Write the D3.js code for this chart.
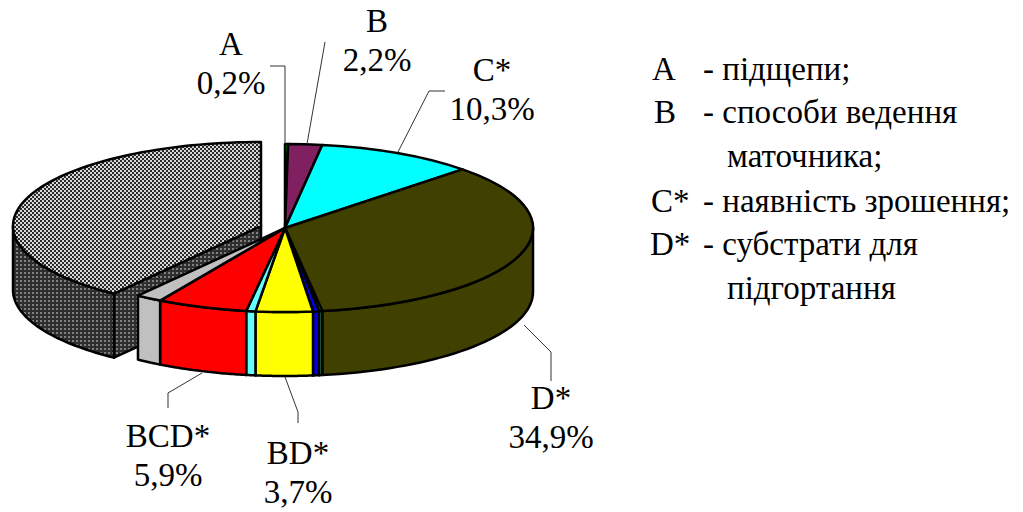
<!DOCTYPE html>
<html>
<head>
<meta charset="utf-8">
<script src="https://cdn.jsdelivr.net/npm/d3@7"></script>
<style>
html, body { margin: 0; padding: 0; background: #fff; }
svg { display: block; }
text { font-family: "Liberation Serif", serif; fill: #000; }
</style>
</head>
<body>
<div id="chart"></div>
<script>
var width = 1023;
var height = 512;

// slices clockwise from 12 o'clock, in percent
var categories = ["A", "B", "C*", "D*", "AD", "ABD", "BD*", "CD", "BCD*", "ABCD", "E"];
var values = [0.2, 2.2, 10.3, 34.9, 0.2, 0.4, 3.7, 0.6, 5.9, 1.7, 39.9];
var colors = ["#00ff00", "#802060", "#00ffff", "#404000", "#33ff99", "#0000e0", "#ffff00", "#66ffff", "#ff0000", "#c0c0c0", "url(#checkTop)"];
var wallColors = ["#00ff00", "#802060", "#00ffff", "#404000", "#33ff99", "#0000e0", "#ffff00", "#66ffff", "#ff0000", "#c0c0c0", "url(#checkWall)"];
var explodedCategory = "E";

// callouts: only slices that have a label
var labelNames = ["A", "B", "C*", "D*", "BCD*", "BD*"];
var labelValues = ["0,2%", "2,2%", "10,3%", "34,9%", "5,9%", "3,7%"];
var labelX = [231, 377, 492, 551, 168, 298];
var labelY = [55, 32, 81, 409, 447, 464];

var legendKeys = ["A", "B", "C*", "", "D*", ""];
var legendDash = ["- підщепи;", "- способи ведення", "- наявність зрошення;", "", "- субстрати для", ""];
var legendExtra = ["", "", "", "", "", ""];
legendExtra[1] = "маточника;";
legendExtra[4] = "підгортання";

var cx = 285, cy = 228, rx = 248, ry = 84, depth = 64;
var explodeX = -24, explodeY = -2;
var lineW = 2.5;

var svg = d3.select("#chart").append("svg")
	.attr("width", width)
	.attr("height", height);

var defs = svg.append("defs");

//2px checker for the top of the big slice
var p1 = defs.append("pattern").attr("id", "checkTop")
	.attr("patternUnits", "userSpaceOnUse")
	.attr("width", 4).attr("height", 4);
p1.append("rect").attr("width", 4).attr("height", 4).attr("fill", "#d8d8d8");
p1.append("rect").attr("width", 2).attr("height", 2).attr("fill", "#2a2a2a");
p1.append("rect").attr("x", 2).attr("y", 2).attr("width", 2).attr("height", 2).attr("fill", "#2a2a2a");

//darker one for the wall
var p2 = defs.append("pattern").attr("id", "checkWall")
	.attr("patternUnits", "userSpaceOnUse")
	.attr("width", 4).attr("height", 4);
p2.append("rect").attr("width", 4).attr("height", 4).attr("fill", "#2e2e2e");
p2.append("rect").attr("width", 2).attr("height", 2).attr("fill", "#808080");

var pie = d3.pie().sort(null).value(function(d) { return d.value; });
var slices = pie(categories.map(function(c, i) {
	return { name: c, value: values[i], color: colors[i], wall: wallColors[i] };
}));

var arc = d3.arc().innerRadius(0).outerRadius(rx);

function rimPoint(a, c) {
	return [c[0] + rx * Math.sin(a), c[1] - ry * Math.cos(a)];
}

//outer wall between two angles, only the part facing the viewer
function wallPath(a0, a1, c) {
	var from = Math.max(a0, Math.PI / 2);
	var to = Math.min(a1, Math.PI * 1.5);
	if (from >= to) return null;
	var pts = d3.range(0, 41).map(function(i) {
		return rimPoint(from + (to - from) * i / 40, c);
	});
	var back = pts.slice().reverse().map(function(p) { return [p[0], p[1] + depth]; });
	return d3.line()(pts.concat(back)) + "Z";
}

function drawSlice(g, d, c) {
	var wall = wallPath(d.startAngle, d.endAngle, c);
	if (d.data.name === explodedCategory) {
		//cut face that shows because the slice is pulled out
		var corner = rimPoint(d.startAngle, c);
		g.append("path")
			.attr("d", d3.line()([c, corner, [corner[0], corner[1] + depth], [c[0], c[1] + depth]]) + "Z")
			.attr("fill", d.data.wall)
			.attr("stroke", "#000").attr("stroke-width", lineW).attr("stroke-linejoin", "round");
	}
	if (wall) {
		g.append("path")
			.attr("d", wall)
			.attr("fill", d.data.wall)
			.attr("stroke", "#000").attr("stroke-width", lineW).attr("stroke-linejoin", "round");
	}
}

function drawTop(g, d, c) {
	g.append("path")
		.attr("d", arc(d))
		.attr("transform", "translate(" + c[0] + "," + c[1] + ") scale(1," + (ry / rx) + ")")
		.attr("fill", d.data.color)
		.attr("stroke", "#000").attr("stroke-width", lineW).attr("stroke-linejoin", "round")
		.attr("vector-effect", "non-scaling-stroke");
}

var pieG = svg.append("g").attr("class", "pie");
var center = [cx, cy];
var pulled = [cx + explodeX, cy + explodeY];

//pulled out slice goes first, the rest sits in front of it
slices.filter(function(d) { return d.data.name === explodedCategory; }).forEach(function(d) {
	drawSlice(pieG, d, pulled);
	// pattern must stay unscaled, so draw the top as a plain polygon
	var pts = d3.range(0, 81).map(function(i) {
		return rimPoint(d.startAngle + (d.endAngle - d.startAngle) * i / 80, pulled);
	});
	pieG.append("path")
		.attr("d", d3.line()([pulled].concat(pts)) + "Z")
		.attr("fill", d.data.color)
		.attr("stroke", "#000").attr("stroke-width", lineW).attr("stroke-linejoin", "round");
});

slices.filter(function(d) { return d.data.name !== explodedCategory; }).forEach(function(d) {
	drawSlice(pieG, d, center);
});
slices.filter(function(d) { return d.data.name !== explodedCategory; }).forEach(function(d) {
	drawTop(pieG, d, center);
});

//leader lines, from the label to the rim
var leaders = [
	[[270, 66], [285, 66], [285, 144]],
	[[325, 42], [307, 144]],
	[[445, 91], [429, 91], [398, 152]],
	[[551, 381], [551, 352], [524, 325]],
	[[168, 408], [168, 393], [202, 373]],
	[[298, 423], [298, 412], [285, 377]]
];
svg.append("g").selectAll("path")
	.data(leaders)
	.enter().append("path")
	.attr("d", function(d) { return d3.line()(d); })
	.attr("fill", "none")
	.attr("stroke", "#333")
	.attr("stroke-width", 1);

//callout labels
var labelG = svg.append("g").attr("text-anchor", "middle").style("font-size", "33px");
labelNames.forEach(function(name, i) {
	labelG.append("text").attr("x", labelX[i]).attr("y", labelY[i]).text(name);
	labelG.append("text").attr("x", labelX[i]).attr("y", labelY[i] + 39).text(labelValues[i]);
});

//legend
var legendG = svg.append("g").style("font-size", "33px");
var legendY = [80, 123, 212, 255];
var legendRows = [0, 1, 2, 4];
var legendKeyX = [652, 654, 651, 650];
legendRows.forEach(function(r, i) {
	legendG.append("text").attr("x", legendKeyX[i]).attr("y", legendY[i]).text(legendKeys[r]);
	legendG.append("text").attr("x", 703).attr("y", legendY[i]).text(legendDash[r]);
	if (legendExtra[r] !== "") {
		legendG.append("text").attr("x", 727).attr("y", legendY[i] + 44).text(legendExtra[r]);
	}
});
</script>
</body>
</html>
